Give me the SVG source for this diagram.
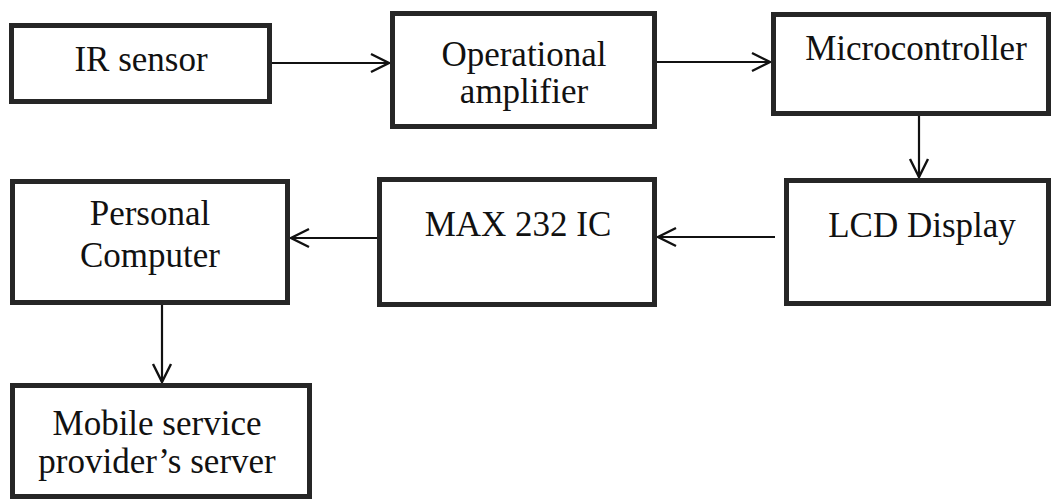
<svg xmlns="http://www.w3.org/2000/svg" width="1056" height="502" viewBox="0 0 1056 502">
  <style>
    .box { fill: #ffffff; stroke: #262626; stroke-width: 5; }
    .lbl { font-family: "Liberation Serif", "Times New Roman", serif; font-size: 35px; fill: #111111; text-anchor: middle; }
    .edge { stroke: #111111; stroke-width: 2.2; fill: none; marker-end: url(#arrow); }
  </style>
  <defs>
    <marker id="arrow" markerUnits="userSpaceOnUse" markerWidth="24" markerHeight="24" viewBox="-20 -12 24 24" refX="0" refY="0" orient="auto">
      <path d="M-18,-9 L0,0 L-18,9" fill="none" stroke="#111111" stroke-width="2.4"/>
    </marker>
  </defs>
  <rect x="0" y="0" width="1056" height="502" fill="#ffffff"/>

  <g id="connectors">
    <line class="edge" x1="272" y1="63" x2="389" y2="63"/>
    <line class="edge" x1="657" y1="62" x2="770" y2="62"/>
    <line class="edge" x1="919" y1="116" x2="919" y2="177"/>
    <line class="edge" x1="775" y1="237" x2="658" y2="237"/>
    <line class="edge" x1="377" y1="238" x2="291" y2="238"/>
    <line class="edge" x1="162" y1="305" x2="162" y2="382"/>
  </g>

  <g id="ir-sensor">
    <rect class="box" x="11.5" y="25.5" width="258" height="76"/>
    <text class="lbl" x="141" y="71">IR sensor</text>
  </g>
  <g id="op-amp">
    <rect class="box" x="392.5" y="13.5" width="262" height="113"/>
    <text class="lbl" x="524" y="66">Operational</text>
    <text class="lbl" x="524" y="103">amplifier</text>
  </g>
  <g id="microcontroller">
    <rect class="box" x="773.5" y="14.5" width="275" height="99"/>
    <text class="lbl" x="916" y="60">Microcontroller</text>
  </g>
  <g id="lcd-display">
    <rect class="box" x="786.5" y="180.5" width="262" height="123"/>
    <text class="lbl" x="922" y="237">LCD Display</text>
  </g>
  <g id="max232">
    <rect class="box" x="379.5" y="179.5" width="275" height="125"/>
    <text class="lbl" x="518" y="236">MAX 232 IC</text>
  </g>
  <g id="personal-computer">
    <rect class="box" x="12.5" y="181.5" width="275" height="121"/>
    <text class="lbl" x="150" y="225">Personal</text>
    <text class="lbl" x="150" y="267">Computer</text>
  </g>
  <g id="mobile-server">
    <rect class="box" x="12.5" y="385.5" width="297" height="111"/>
    <text class="lbl" x="157" y="435">Mobile service</text>
    <text class="lbl" x="157" y="473">provider’s server</text>
  </g>
</svg>
